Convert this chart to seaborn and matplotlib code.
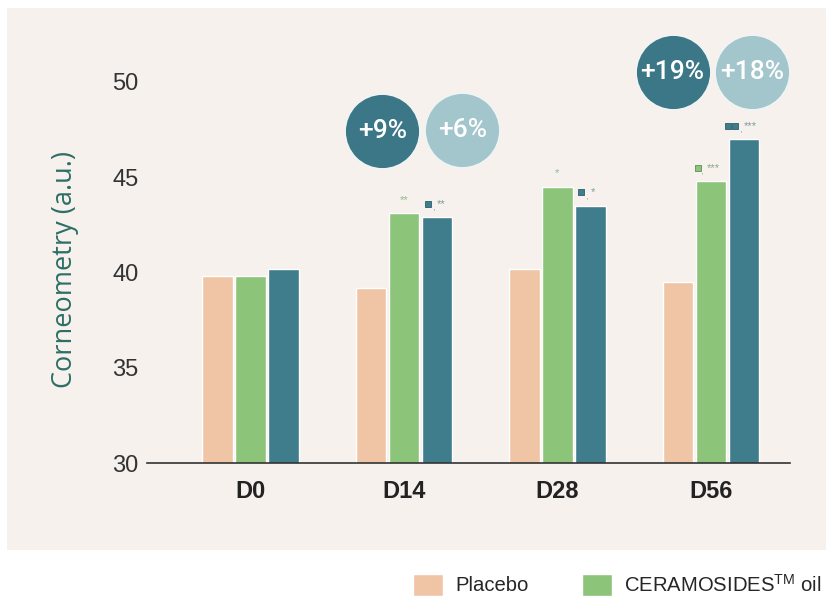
import numpy as np
import pandas as pd
import matplotlib
matplotlib.use("Agg")
import matplotlib.pyplot as plt
import seaborn as sns
from matplotlib.patches import Rectangle, Patch

# values
days = ["D0", "D14", "D28", "D56"]
placebo = [39.8, 39.2, 40.2, 39.5]
ceramosides_oil = [39.8, 43.1, 44.5, 44.8]
ceramosides_other = [40.2, 42.9, 43.5, 47.0]
groups = ["Placebo", "CERAMOSIDES$^{\\mathrm{TM}}$ oil", "CERAMOSIDES other"]
colors = ["#efc5a6", "#8cc47a", "#3f7d8c"]

# significance marks above the bars
oil_stars = ["", "**", "*", "***"]
oil_box = [False, False, False, True]
other_stars = ["", "**", "*", "***"]
other_box = [0, 1, 1, 2]

# percentage bubbles
bubble_day = [1, 1, 3, 3]
bubble_dx = [-0.14, 0.38, -0.25, 0.27]
bubble_y = [47.4, 47.5, 50.5, 50.5]
bubble_txt = ["+9%", "+6%", "+19%", "+18%"]
bubble_col = ["#3b7786", "#a2c6cc", "#3b7786", "#a2c6cc"]

df = pd.DataFrame({
    "day": days * 3,
    "value": placebo + ceramosides_oil + ceramosides_other,
    "group": [g for g in groups for _ in days],
})

sns.set_style("white")
plt.rcParams["font.family"] = ["Liberation Sans", "DejaVu Sans"]
plt.rcParams["mathtext.fontset"] = "custom"
plt.rcParams["mathtext.rm"] = "Liberation Sans"

fig = plt.figure(figsize=(8.26, 5.96), dpi=100)
fig.patch.set_facecolor("white")
fig.add_artist(Rectangle((7 / 826, 46 / 596), 819 / 826, 542 / 596,
                         transform=fig.transFigure, facecolor="#f6f1ed",
                         edgecolor="none", zorder=0))

ax = fig.add_axes([147 / 826, 133 / 596, 643 / 826, 443 / 596])
ax.set_facecolor("none")

sns.barplot(data=df, x="day", y="value", hue="group", palette=colors,
            width=0.645, gap=0.07, ax=ax, legend=False, saturation=1)

ax.set_xlim(-0.674, 3.515)
ax.set_ylim(30, 53.25)
ax.set_yticks([30, 35, 40, 45, 50])
ax.tick_params(axis="y", length=0, labelsize=17, labelcolor="#333333", pad=6)
ax.tick_params(axis="x", length=0, labelsize=17, labelcolor="#222222", pad=12)
for lab in ax.get_xticklabels():
    lab.set_fontweight("bold")
    lab.set_family(["Liberation Sans Narrow", "Liberation Sans"])
ax.set_xlabel("")
ax.set_ylabel("Corneometry (a.u.)", fontsize=19.5, color="#2e6e66", labelpad=24,
              family=["Open Sans", "Liberation Sans"], y=0.436)
for s in ["top", "right", "left"]:
    ax.spines[s].set_visible(False)
ax.spines["bottom"].set_color("#333333")
ax.spines["bottom"].set_linewidth(1.2)

step = 0.215
for i in range(len(days)):
    # oil bar marks
    yo = ceramosides_oil[i] + 0.7
    if oil_box[i]:
        ax.scatter(i - 0.085, yo, marker="s", s=22, color="#8cc47a",
                   edgecolor="#5f8f55", linewidth=0.6, zorder=5)
        ax.text(i - 0.055, yo - 0.5, "'", fontsize=5, color="#6f8f70", ha="center")
        ax.text(i - 0.03, yo, oil_stars[i], fontsize=8, color="#8aa88a",
                ha="left", va="center")
    elif oil_stars[i]:
        ax.text(i, yo, oil_stars[i], fontsize=8, color="#8fb88a",
                ha="center", va="center")
    # other bar marks
    xt = i + step
    yt = ceramosides_other[i] + 0.7
    if other_box[i]:
        for k in range(other_box[i]):
            ax.scatter(xt - 0.06 - 0.045 * (other_box[i] - 1) + 0.045 * k, yt,
                       marker="s", s=22, color="#3f7d8c",
                       edgecolor="#2d5f6a", linewidth=0.6, zorder=5)
        ax.text(xt - 0.02, yt - 0.5, "'", fontsize=5, color="#557f88", ha="center")
        ax.text(xt + 0.0, yt, other_stars[i], fontsize=8, color="#7d9aa0",
                ha="left", va="center")

for d, dx, y, t, c in zip(bubble_day, bubble_dx, bubble_y, bubble_txt, bubble_col):
    ax.scatter(d + dx, y, s=2900, color=c, edgecolor="#f0f4f4", linewidth=1.2,
               zorder=6, clip_on=False)
    ax.text(d + dx, y, t, fontsize=19, color="white", ha="center", va="center",
            fontweight="medium", family=["Roboto", "Liberation Sans"], zorder=7)

handles = [Patch(facecolor=colors[0], label="Placebo"),
           Patch(facecolor=colors[1], label=groups[1])]
fig.legend(handles=handles, loc="lower left", bbox_to_anchor=(0.478, -0.03),
           ncol=2, frameon=False, fontsize=14.6, handlelength=1.5,
           handleheight=1.3, handletextpad=0.6, columnspacing=2.6)

fig.savefig("out.png", dpi=100)
